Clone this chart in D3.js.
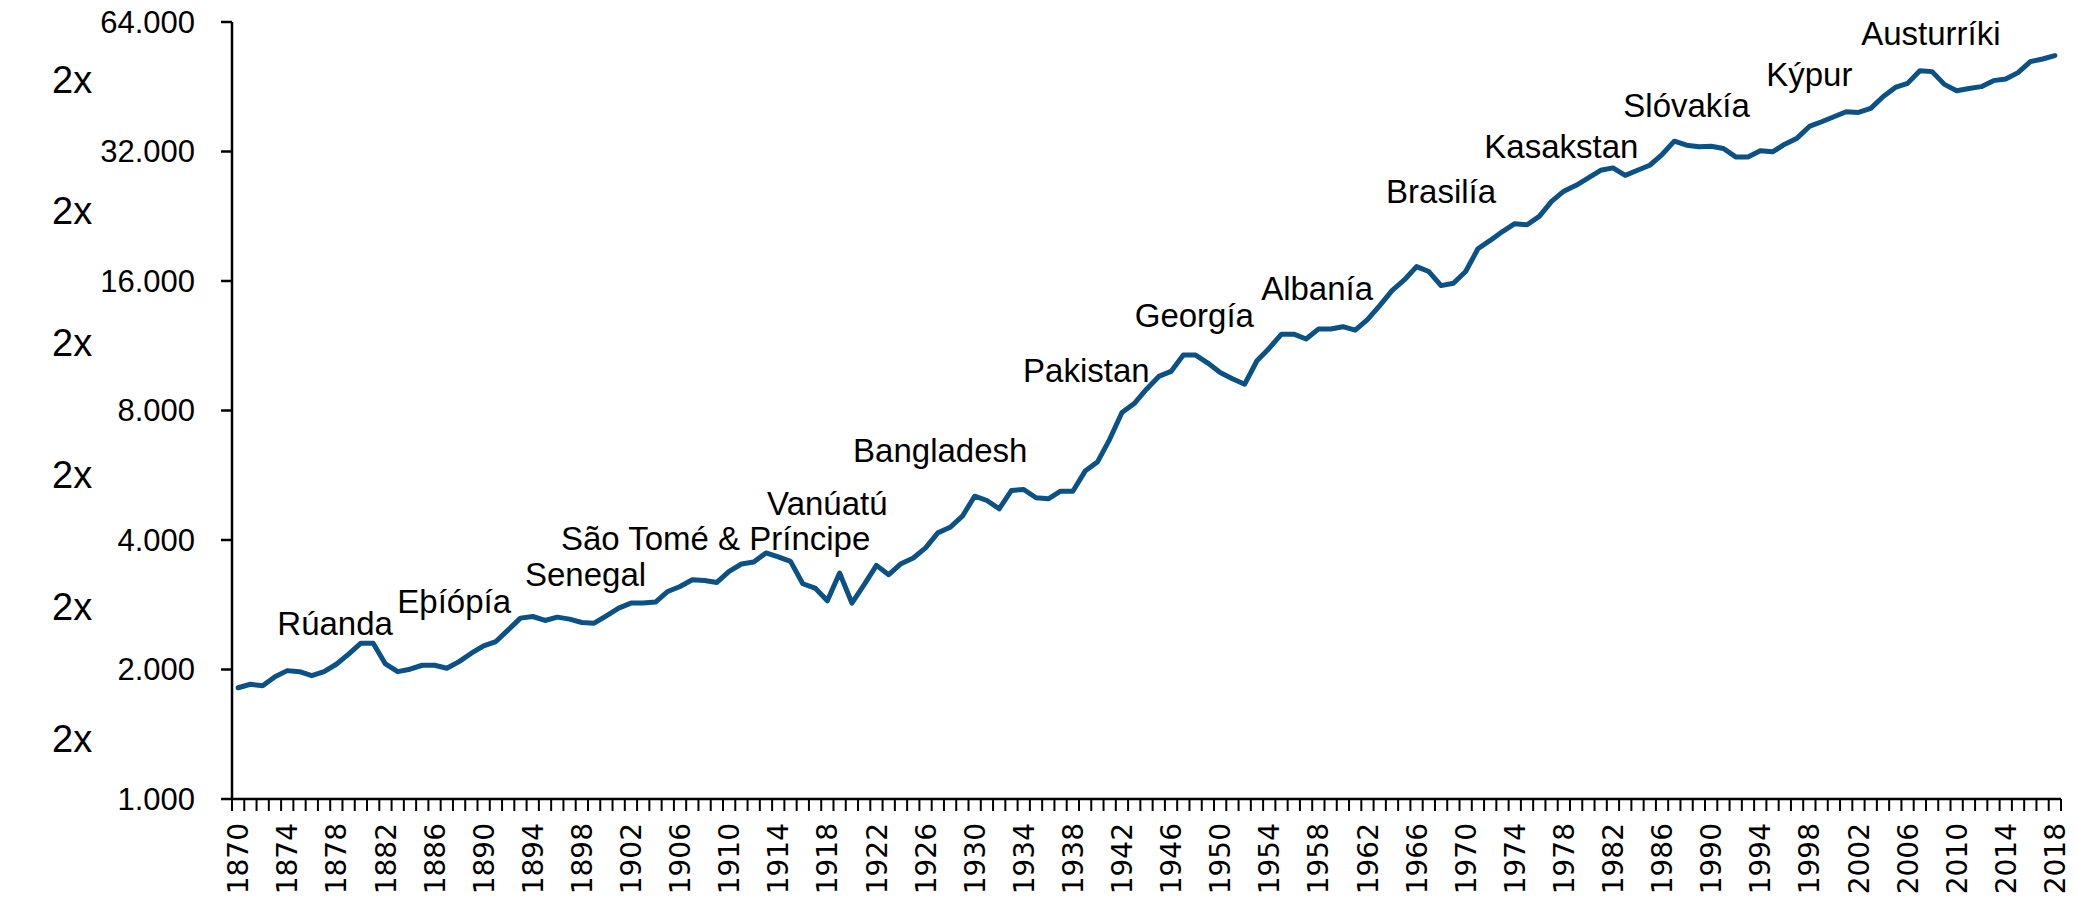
<!DOCTYPE html>
<meta charset="utf-8">
<style>
  body { margin: 0; background: #fff; }
  svg { display: block; }
</style>
<svg width="2077" height="899"></svg>
<script src="https://cdn.jsdelivr.net/npm/d3@7"></script>
<script>

  var firstYear = 1870, lastYear = 2018;
  var years = d3.range(firstYear, lastYear + 1);

  // GDP per capita (log scale)
  var gdp = [
    1814, 1848, 1834, 1925, 1988, 1977, 1935, 1977, 2057, 2171,
    2303, 2303, 2060, 1977, 2003, 2046, 2046, 2014, 2086, 2182,
    2270, 2323, 2473, 2633, 2656, 2600, 2647, 2619, 2572, 2563,
    2666, 2778, 2854, 2854, 2869, 3037, 3119, 3234, 3222, 3187,
    3382, 3518, 3556, 3732, 3653, 3568, 3165, 3093, 2889, 3352,
    2854, 3149, 3492, 3322, 3524, 3633, 3834, 4155, 4282, 4543,
    5057, 4942, 4727, 5215, 5242, 5014, 4987, 5194, 5194, 5784,
    6070, 6856, 7912, 8304, 8967, 9600, 9862, 10763, 10763, 10310,
    9808, 9480, 9210, 10440, 11170, 12040, 12040, 11730, 12370, 12370,
    12530, 12300, 13010, 14020, 15200, 16090, 17280, 16830, 15610, 15810,
    16830, 19010, 19880, 20850, 21740, 21620, 22610, 24500, 25880, 26700,
    27780, 28940, 29310, 28170, 28940, 29730, 31480, 33820, 33090, 32810,
    32920, 32520, 31090, 31090, 32110, 31940, 33270, 34370, 36590, 37520,
    38540, 39580, 39440, 40300, 42910, 45100, 46080, 49330, 49070, 45830,
    44310, 44850, 45280, 46760, 47160, 48810, 51770, 52500, 53480
  ];

  var yTicks = [1000, 2000, 4000, 8000, 16000, 32000, 64000];
  var xLabelYears = d3.range(firstYear, lastYear + 1, 4);

  // country labels: name, year (centre) and value (baseline)
  var annoNames = ["Rúanda", "Eþíópía", "Senegal", "São Tomé & Príncipe", "Vanúatú",
    "Bangladesh", "Pakistan", "Georgía", "Albanía", "Brasilía", "Kasakstan",
    "Slóvakía", "Kýpur", "Austurríki"];
  var annoYears = [1877.9, 1887.6, 1898.3, 1908.9, 1918.0, 1927.2, 1939.1, 1947.9,
    1957.9, 1968.0, 1977.8, 1988.0, 1998.0, 2007.9];
  var annoValues = [2405, 2706, 3127, 3792, 4573, 6073, 9318, 12510, 14450, 24290,
    30900, 38550, 45440, 56580];

  var svg = d3.select("svg"),
    margin = {top: 22, right: 16, bottom: 100, left: 232},
    width = +svg.attr("width") - margin.left - margin.right,
    height = +svg.attr("height") - margin.top - margin.bottom,
    g = svg.append("g").attr("transform", "translate(" + margin.left + "," + margin.top + ")");

  var textFont = "'Liberation Sans', Arial, sans-serif";
  var lineColor = "#0b5185";

  // category axis, points sit in the middle of each year slot
  var x = d3.scaleLinear()
    .domain([firstYear - 0.5, lastYear + 0.5])
    .range([0, width]);

  var y = d3.scaleLog().base(2)
    .domain([1000, 64000])
    .range([height, 0]);

  var fmt = d3.formatLocale({decimal: ",", thousands: ".", grouping: [3], currency: ["", ""]}).format(",");

  // y axis
  g.append("line")
    .attr("x1", 0).attr("x2", 0)
    .attr("y1", 0).attr("y2", height)
    .attr("stroke", "#000").attr("stroke-width", 2.5);

  g.selectAll(".ytick")
    .data(yTicks)
    .enter().append("line")
    .attr("x1", -11).attr("x2", 0)
    .attr("y1", function (d) { return y(d); })
    .attr("y2", function (d) { return y(d); })
    .attr("stroke", "#000").attr("stroke-width", 2.5);

  g.selectAll(".ylabel")
    .data(yTicks)
    .enter().append("text")
    .attr("x", -37)
    .attr("y", function (d) { return y(d); })
    .attr("dy", "0.35em")
    .attr("text-anchor", "end")
    .style("font-family", textFont)
    .style("font-size", "31px")
    .text(function (d) { return fmt(d); });

  // "2x" markers between each doubling (slightly wider spread than the ticks)
  g.selectAll(".twox")
    .data(yTicks.slice(1))
    .enter().append("text")
    .attr("x", 52 - margin.left)
    .attr("y", function (d, i) { return y(Math.sqrt(d * d / 2)) + 4 - 2.3 * i; })
    .attr("dy", "0.35em")
    .style("font-family", textFont)
    .style("font-size", "38px")
    .text("2x");

  // x axis
  g.append("line")
    .attr("x1", 0).attr("x2", width)
    .attr("y1", height).attr("y2", height)
    .attr("stroke", "#000").attr("stroke-width", 2.5);

  g.selectAll(".xtick")
    .data(years.concat([lastYear + 1]))
    .enter().append("line")
    .attr("x1", function (d) { return x(d - 0.5); })
    .attr("x2", function (d) { return x(d - 0.5); })
    .attr("y1", height).attr("y2", height + 12)
    .attr("stroke", "#000").attr("stroke-width", 2);

  g.selectAll(".xlabel")
    .data(xLabelYears)
    .enter().append("text")
    .attr("transform", function (d) {
      return "translate(" + x(d) + "," + (height + 24) + ") rotate(-90)";
    })
    .attr("dy", "0.36em")
    .attr("text-anchor", "end")
    .style("font-family", "'DejaVu Sans', sans-serif")
    .style("font-size", "28px")
    .text(function (d) { return d; });

  // the series
  var line = d3.line()
    .x(function (d, i) { return x(years[i]); })
    .y(function (d) { return y(d); });

  g.append("path")
    .datum(gdp)
    .attr("fill", "none")
    .attr("stroke", lineColor)
    .attr("stroke-width", 5)
    .attr("stroke-linejoin", "round")
    .attr("stroke-linecap", "round")
    .attr("d", line);

  // country labels
  g.selectAll(".anno")
    .data(annoNames)
    .enter().append("text")
    .attr("x", function (d, i) { return x(annoYears[i]); })
    .attr("y", function (d, i) { return y(annoValues[i]); })
    .attr("text-anchor", "middle")
    .style("font-family", textFont)
    .style("font-size", "33px")
    .text(function (d) { return d; });

</script>
